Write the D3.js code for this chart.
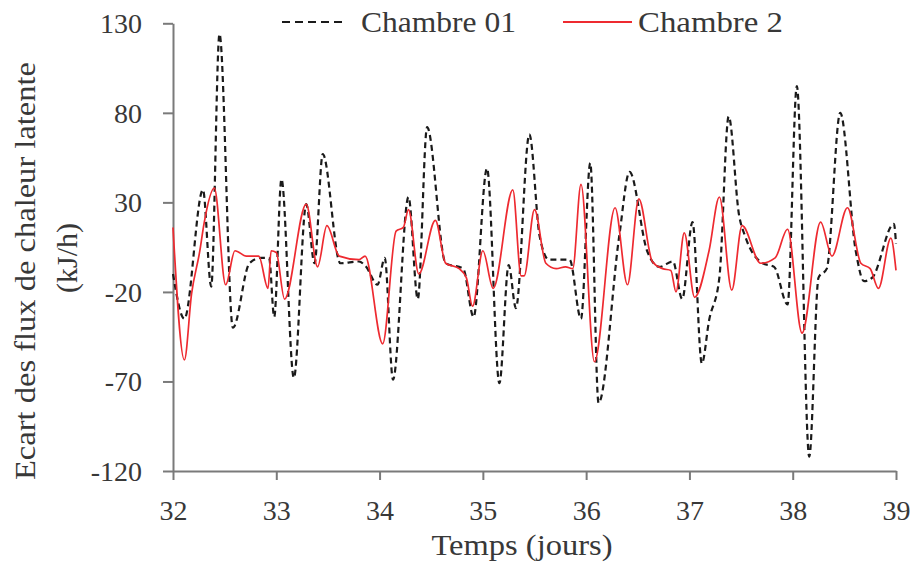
<!DOCTYPE html>
<html>
<head>
<meta charset="utf-8">
<script src="https://cdn.jsdelivr.net/npm/d3@7"></script>
<style>
  html, body { margin: 0; padding: 0; background: #ffffff; }
  svg { display: block; }
  text { font-family: "Liberation Serif", "DejaVu Serif", serif; fill: #383838; }
</style>
</head>
<body>
<svg id="chart" width="914" height="564"></svg>
<script>
// ---- Data ----
const xTicks = [32, 33, 34, 35, 36, 37, 38, 39];
const yTicks = [-120, -70, -20, 30, 80, 130];
const seriesNames = ["Chambre 01", "Chambre 2"];

const days01 = [32.00, 32.11, 32.29, 32.37, 32.45, 32.58, 32.74, 32.85, 32.93, 32.98, 33.05, 33.17, 33.29, 33.37, 33.45, 33.62, 33.80, 33.87, 33.98, 34.05, 34.13, 34.28, 34.37, 34.46, 34.64, 34.81, 34.91, 35.04, 35.16, 35.25, 35.32, 35.45, 35.55, 35.64, 35.84, 35.95, 36.04, 36.12, 36.32, 36.42, 36.59, 36.71, 36.84, 36.93, 37.03, 37.12, 37.19, 37.29, 37.38, 37.48, 37.54, 37.71, 37.82, 37.95, 38.04, 38.16, 38.25, 38.33, 38.46, 38.61, 38.69, 38.77, 38.98, 39.00];
const chambre01 = [-10, -35, 37, -17, 124, -40, -4, -1, -1, -34, 43, -68, 29, -4, 57, -4, -3, -6, -16, -1, -69, 33, -24, 72, -4, -7, -34, 49, -71, -5, -29, 68, 11, -2, -2, -35, 52, -82, 11, 47, 3, -6, -3, -24, 19, -60, -36, -12, 78, 23, 11, -4, -6, -27, 95, -112, -12, -7, 80, 3, -14, -12, 18, 7];

const days2 = [32.00, 32.11, 32.18, 32.26, 32.30, 32.40, 32.51, 32.60, 32.71, 32.83, 32.92, 32.95, 33.00, 33.08, 33.29, 33.40, 33.49, 33.61, 33.80, 33.86, 34.03, 34.16, 34.23, 34.28, 34.38, 34.54, 34.64, 34.77, 34.84, 34.90, 35.00, 35.10, 35.29, 35.37, 35.40, 35.50, 35.61, 35.71, 35.80, 35.87, 35.95, 36.08, 36.28, 36.40, 36.51, 36.64, 36.74, 36.82, 36.87, 36.95, 37.05, 37.19, 37.29, 37.41, 37.51, 37.69, 37.83, 37.95, 38.09, 38.27, 38.38, 38.53, 38.66, 38.75, 38.83, 38.95, 39.00];
const chambre2 = [16, -58, -21, 3, 18, 38, -16, 3, 0, 0, -18, 3, 2, -24, 29, -6, 17, 0, -2, 0, -49, 14, 16, 26, -10, 20, -4, -7, -12, -28, 3, -18, 37, -11, -11, 26, -4, -7, -6, -7, 40, -59, 27, -16, 32, -3, -7, -8, -20, 13, -23, 3, 33, -19, 17, -4, -1, 15, -43, 19, 0, 27, -4, -7, -18, 10, -8];

// ---- Layout ----
const svg = d3.select("#chart");
const mLeft = 173, mRight = 896, mTop = 23.3, mBottom = 471;
const x = d3.scaleLinear().domain([32, 39]).range([mLeft, mRight]);
const y = d3.scaleLinear().domain([-120, 130]).range([mBottom, mTop]);
const axisColor = "#7a7a7a";
const serif = '"Liberation Serif", "DejaVu Serif", serif';

// Axes
const yAxis = svg.append("g").attr("transform", `translate(${mLeft},0)`)
  .call(d3.axisLeft(y).tickValues(yTicks).tickSize(10).tickSizeOuter(0).tickPadding(21).tickFormat(d => String(d)));
const xAxis = svg.append("g").attr("transform", `translate(0,${mBottom})`)
  .call(d3.axisBottom(x).tickValues(xTicks).tickSize(9).tickSizeOuter(0).tickPadding(20).tickFormat(d => String(d)));
[yAxis, xAxis].forEach(g => {
  g.attr("font-family", serif).attr("font-size", 28);
  g.select(".domain").attr("stroke", axisColor).attr("stroke-width", 2);
  g.selectAll(".tick line").attr("stroke", axisColor).attr("stroke-width", 2);
  g.selectAll(".tick text").style("font-family", serif).style("font-size", "28px").attr("fill", "#383838");
});
yAxis.selectAll(".tick text").attr("dy", "0.34em");

// Lines
const line = d3.line().curve(d3.curveMonotoneX).x(d => x(d[0])).y(d => y(d[1]));
const data01 = days01.map((d, i) => [d, chambre01[i]]);
const data2 = days2.map((d, i) => [d, chambre2[i]]);

svg.append("path").datum(data01)
  .attr("d", line).attr("fill", "none").attr("stroke", "#1a1a1a")
  .attr("stroke-width", 2.2).attr("stroke-dasharray", "6,4");
svg.append("path").datum(data2)
  .attr("d", line).attr("fill", "none").attr("stroke", "#ee2a30")
  .attr("stroke-width", 1.7);

// Legend
const legY = 22;
svg.append("line").attr("x1", 282).attr("x2", 345).attr("y1", legY).attr("y2", legY)
  .attr("stroke", "#1a1a1a").attr("stroke-width", 2.2).attr("stroke-dasharray", "8,5");
svg.append("text").attr("x", 361).attr("y", legY).attr("dy", "0.34em")
  .attr("font-size", 30).attr("textLength", 155).attr("lengthAdjust", "spacingAndGlyphs")
  .text(seriesNames[0]);
svg.append("line").attr("x1", 563).attr("x2", 632).attr("y1", legY).attr("y2", legY)
  .attr("stroke", "#ee2a30").attr("stroke-width", 2);
svg.append("text").attr("x", 638).attr("y", legY).attr("dy", "0.34em")
  .attr("font-size", 30).attr("textLength", 145).attr("lengthAdjust", "spacingAndGlyphs")
  .text(seriesNames[1]);

// Axis titles
svg.append("text").attr("transform", "translate(25,271) rotate(-90)")
  .attr("text-anchor", "middle").attr("dy", "0.34em").attr("font-size", 30)
  .attr("textLength", 418).attr("lengthAdjust", "spacingAndGlyphs")
  .text("Ecart des flux de chaleur latente");
svg.append("text").attr("transform", "translate(67,258) rotate(-90)")
  .attr("text-anchor", "middle").attr("dy", "0.34em").attr("font-size", 30)
  .text("(kJ/h)");
svg.append("text").attr("x", 522).attr("y", 545).attr("text-anchor", "middle")
  .attr("dy", "0.34em").attr("font-size", 29)
  .attr("textLength", 181).attr("lengthAdjust", "spacingAndGlyphs")
  .text("Temps (jours)");
</script>
</body>
</html>
